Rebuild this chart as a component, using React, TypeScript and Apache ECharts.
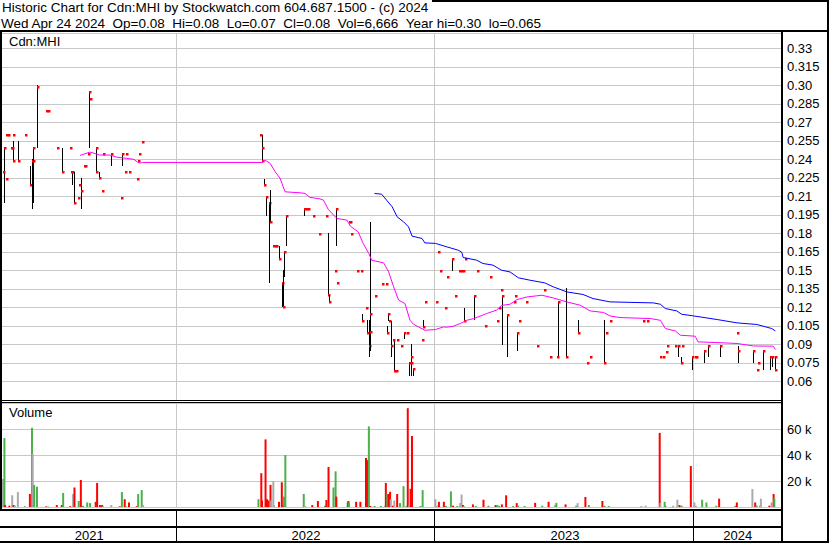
import React, { useEffect, useRef } from 'react';
import * as echarts from 'echarts';

const FONT = 'Arial, "Liberation Sans", Helvetica, sans-serif';

const headerLine1 = 'Historic Chart for Cdn:MHI by Stockwatch.com 604.687.1500 - (c) 2024';
const headerLine2Parts = ['Wed Apr 24 2024', 'Op=0.08', 'Hi=0.08', 'Lo=0.07', 'Cl=0.08', 'Vol=6,666', 'Year hi=0.30', 'lo=0.065'];
const symbolLabel = 'Cdn:MHI';
const volumeLabel = 'Volume';

const xStart = '2021-04-30';
const xEnd = '2024-05-02';
const yearStarts = ['2022-01-01', '2023-01-01', '2024-01-01'];
const yearBands = [
  ['2021-04-30', '2022-01-01', '2021'],
  ['2022-01-01', '2023-01-01', '2022'],
  ['2023-01-01', '2024-01-01', '2023'],
  ['2024-01-01', '2024-05-02', '2024'],
];

const priceMin = 0.045;
const priceMax = 0.3424;
const priceStep = 0.015;
const volMax = 80000;
const volStep = 20000;
const volLabels = [20000, 40000, 60000];

// [date, high, low, close]
const ranges2021 = [
  ['2021-05-03', 0.25, 0.205, 0.249],
  ['2021-05-16', 0.255, 0.239, 0.239],
  ['2021-05-22', 0.255, 0.239, 0.239],
  ['2021-06-08', 0.235, 0.219, 0.219],
  ['2021-06-11', 0.24, 0.2, 0.239],
  ['2021-06-12', 0.239, 0.205, 0.239],
  ['2021-06-13', 0.25, 0.239, 0.249],
  ['2021-06-18', 0.3, 0.2495, 0.299],
  ['2021-07-24', 0.2495, 0.23, 0.23],
  ['2021-08-07', 0.23, 0.2195, 0.23],
  ['2021-08-10', 0.23, 0.2045, 0.2045],
  ['2021-08-19', 0.2245, 0.2, 0.2145],
  ['2021-08-31', 0.2945, 0.2495, 0.2945],
  ['2021-09-09', 0.2495, 0.2345, 0.2495],
  ['2021-09-10', 0.245, 0.23, 0.23],
  ['2021-09-14', 0.23, 0.2245, 0.2245],
  ['2021-09-30', 0.2445, 0.2345, 0.244],
  ['2021-10-16', 0.2445, 0.2345, 0.244],
];
const ranges2022 = [
  ['2022-05-01', 0.26, 0.245, 0.249],
  ['2022-05-02', 0.245, 0.239, 0.239],
  ['2022-05-04', 0.2243, 0.2189, 0.2189],
  ['2022-05-07', 0.2094, 0.1938, 0.2094],
  ['2022-05-11', 0.2053, 0.1397, 0.205],
  ['2022-05-13', 0.2148, 0.1893, 0.1893],
  ['2022-05-26', 0.17, 0.1594, 0.1594],
  ['2022-05-29', 0.14, 0.12, 0.14],
  ['2022-05-31', 0.15, 0.12, 0.12],
  ['2022-06-02', 0.1648, 0.1445, 0.1648],
  ['2022-06-04', 0.194, 0.1694, 0.194],
  ['2022-06-30', 0.2, 0.194, 0.2],
  ['2022-08-02', 0.18, 0.13, 0.13],
  ['2022-08-04', 0.13, 0.1242, 0.1242],
  ['2022-08-14', 0.2, 0.1694, 0.2],
  ['2022-09-19', 0.1148, 0.1094, 0.1094],
  ['2022-09-26', 0.11, 0.099, 0.099],
  ['2022-09-29', 0.11, 0.08, 0.0891],
  ['2022-09-30', 0.11, 0.085, 0.1],
  ['2022-10-01', 0.1893, 0.1094, 0.1148],
  ['2022-10-24', 0.1047, 0.0991, 0.0991],
  ['2022-10-26', 0.1148, 0.1094, 0.1148],
  ['2022-10-30', 0.1094, 0.0802, 0.0891],
  ['2022-11-04', 0.0945, 0.0689, 0.0689],
  ['2022-11-17', 0.0994, 0.0945, 0.0994],
  ['2022-11-25', 0.0747, 0.0648, 0.0747],
  ['2022-11-28', 0.09, 0.0648, 0.0747],
  ['2022-11-30', 0.0698, 0.0648, 0.0698],
  ['2022-12-15', 0.11, 0.1045, 0.1045],
];
const ranges2023 = [
  ['2023-01-24', 0.1594, 0.1494, 0.1594],
  ['2023-02-10', 0.1197, 0.1094, 0.1094],
  ['2023-02-24', 0.1291, 0.11, 0.1291],
  ['2023-04-05', 0.1291, 0.0897, 0.1291],
  ['2023-04-12', 0.1142, 0.0796, 0.1142],
  ['2023-04-26', 0.0994, 0.0845, 0.0994],
  ['2023-06-22', 0.1242, 0.0796, 0.1242],
  ['2023-07-04', 0.1355, 0.0796, 0.0796],
  ['2023-07-21', 0.11, 0.0991, 0.0991],
  ['2023-08-26', 0.11, 0.0747, 0.0747],
  ['2023-12-09', 0.0891, 0.0796, 0.0891],
  ['2023-12-13', 0.0796, 0.0747, 0.0747],
  ['2023-12-29', 0.0796, 0.0694, 0.0796],
];
const ranges2024 = [
  ['2024-01-14', 0.0845, 0.0747, 0.0845],
  ['2024-01-20', 0.0891, 0.0796, 0.0891],
  ['2024-02-06', 0.0891, 0.0796, 0.0891],
  ['2024-03-03', 0.0891, 0.0747, 0.0845],
  ['2024-03-24', 0.0845, 0.0747, 0.0845],
  ['2024-04-06', 0.0845, 0.0694, 0.0845],
  ['2024-04-17', 0.0796, 0.0694, 0.0796],
  ['2024-04-20', 0.0796, 0.072, 0.0796],
  ['2024-04-24', 0.08, 0.07, 0.08],
];

// [date, close] (single-price sessions)
const closes2021 = [
  ['2021-05-01', 0.23], ['2021-05-05', 0.224], ['2021-05-06', 0.26], ['2021-05-09', 0.26],
  ['2021-05-12', 0.249], ['2021-05-14', 0.249], ['2021-05-15', 0.26], ['2021-06-02', 0.26],
  ['2021-07-01', 0.279], ['2021-07-04', 0.279], ['2021-07-16', 0.249], ['2021-08-04', 0.249],
  ['2021-08-05', 0.23], ['2021-08-15', 0.209], ['2021-08-17', 0.2195], ['2021-08-23', 0.2345],
  ['2021-08-25', 0.2345], ['2021-08-29', 0.244], ['2021-09-01', 0.289], ['2021-09-18', 0.214],
  ['2021-09-19', 0.244], ['2021-10-15', 0.209], ['2021-10-21', 0.23], ['2021-10-22', 0.244],
  ['2021-10-26', 0.23], ['2021-11-06', 0.224], ['2021-11-08', 0.239], ['2021-11-09', 0.244],
  ['2021-11-14', 0.254],
];
const closes2022 = [
  ['2022-04-28', 0.2594], ['2022-05-17', 0.1694], ['2022-05-20', 0.1694], ['2022-05-21', 0.1694],
  ['2022-07-02', 0.2], ['2022-07-05', 0.2], ['2022-07-12', 0.1938], ['2022-07-21', 0.1792],
  ['2022-07-31', 0.1938], ['2022-08-13', 0.1494], ['2022-08-15', 0.1397], ['2022-09-01', 0.1893],
  ['2022-09-02', 0.1893], ['2022-09-04', 0.1792], ['2022-09-12', 0.1494], ['2022-09-18', 0.1494],
  ['2022-09-25', 0.1194], ['2022-10-08', 0.1291], ['2022-10-18', 0.1394], ['2022-10-23', 0.1394],
  ['2022-10-28', 0.1094], ['2022-11-02', 0.094], ['2022-11-06', 0.0689], ['2022-11-08', 0.094],
  ['2022-11-14', 0.0891], ['2022-11-22', 0.0994], ['2022-11-27', 0.0796], ['2022-12-13', 0.094],
  ['2022-12-17', 0.1242],
];
const closes2023 = [
  ['2023-01-02', 0.1242], ['2023-01-04', 0.1648], ['2023-01-08', 0.1494], ['2023-01-15', 0.1194],
  ['2023-01-17', 0.1445], ['2023-01-29', 0.1291], ['2023-02-03', 0.1494], ['2023-02-06', 0.1494],
  ['2023-02-09', 0.1494], ['2023-02-12', 0.1589], ['2023-02-28', 0.1494], ['2023-03-12', 0.1047],
  ['2023-03-19', 0.1445], ['2023-03-28', 0.1094], ['2023-03-31', 0.1194], ['2023-04-04', 0.1345],
  ['2023-04-22', 0.1242], ['2023-04-23', 0.1291], ['2023-04-29', 0.1094], ['2023-05-09', 0.1242],
  ['2023-05-24', 0.0891], ['2023-06-03', 0.1345], ['2023-06-12', 0.0796], ['2023-06-21', 0.0796],
  ['2023-08-02', 0.0747], ['2023-08-07', 0.0796], ['2023-08-29', 0.0991], ['2023-09-04', 0.1094],
  ['2023-10-20', 0.1094], ['2023-10-26', 0.1094], ['2023-11-14', 0.0796], ['2023-11-18', 0.0796],
  ['2023-11-22', 0.0843], ['2023-11-23', 0.0891], ['2023-12-05', 0.0891], ['2023-12-15', 0.0891],
];
const closes2024 = [
  ['2024-01-02', 0.0796], ['2024-01-03', 0.0796], ['2024-03-01', 0.0991], ['2024-03-29', 0.0694],
  ['2024-03-31', 0.0747], ['2024-04-23', 0.0694],
];

// moving averages [date, value]
const maShort = [
  ['2021-08-18', 0.2432], ['2021-09-01', 0.2459], ['2021-09-15', 0.2435], ['2021-09-29', 0.2435],
  ['2021-10-09', 0.2418], ['2021-10-23', 0.2408], ['2021-11-02', 0.24], ['2021-11-07', 0.2378],
  ['2021-11-11', 0.237], ['2021-11-14', 0.2375], ['2022-05-02', 0.2375], ['2022-05-04', 0.2394],
  ['2022-05-08', 0.2386], ['2022-05-13', 0.2367], ['2022-05-20', 0.23], ['2022-05-27', 0.2246],
  ['2022-05-31', 0.2183], ['2022-06-03', 0.2137], ['2022-06-24', 0.2129], ['2022-07-01', 0.2124],
  ['2022-07-08', 0.2092], ['2022-07-22', 0.208], ['2022-07-27', 0.207], ['2022-08-03', 0.1994],
  ['2022-08-15', 0.1921], ['2022-08-29', 0.1908], ['2022-09-03', 0.1859], ['2022-09-14', 0.1813],
  ['2022-09-21', 0.1719], ['2022-09-29', 0.1638], ['2022-10-03', 0.1583], ['2022-10-20', 0.1561],
  ['2022-10-27', 0.1488], ['2022-11-03', 0.1367], ['2022-11-10', 0.1259], ['2022-11-19', 0.1232],
  ['2022-11-26', 0.1097], ['2022-12-01', 0.1064], ['2022-12-17', 0.1015], ['2023-01-01', 0.1021],
  ['2023-01-12', 0.1042], ['2023-01-17', 0.104], ['2023-01-26', 0.1048], ['2023-02-05', 0.107],
  ['2023-02-14', 0.1096], ['2023-02-24', 0.111], ['2023-03-14', 0.115], ['2023-03-28', 0.1178],
  ['2023-04-04', 0.1216], ['2023-04-16', 0.1226], ['2023-04-26', 0.1264], ['2023-05-10', 0.1285],
  ['2023-05-31', 0.1299], ['2023-06-16', 0.1277], ['2023-07-05', 0.1245], ['2023-07-24', 0.1218],
  ['2023-08-07', 0.1172], ['2023-08-26', 0.1159], ['2023-09-04', 0.1131], ['2023-09-18', 0.1118],
  ['2023-10-31', 0.111], ['2023-11-14', 0.1096], ['2023-11-21', 0.1029], ['2023-12-05', 0.101],
  ['2023-12-12', 0.0975], ['2024-01-02', 0.0967], ['2024-01-06', 0.0921], ['2024-01-30', 0.0916],
  ['2024-03-01', 0.0908], ['2024-03-24', 0.0888], ['2024-04-21', 0.0886], ['2024-04-24', 0.0859],
];
const maLong = [
  ['2022-10-07', 0.2124], ['2022-10-17', 0.2118], ['2022-10-24', 0.207], ['2022-11-01', 0.2015],
  ['2022-11-08', 0.1934], ['2022-11-17', 0.1894], ['2022-11-24', 0.1853], ['2022-11-29', 0.1778],
  ['2022-12-13', 0.1759], ['2022-12-17', 0.1723], ['2023-01-01', 0.1719], ['2023-01-17', 0.1691],
  ['2023-02-02', 0.1664], ['2023-02-07', 0.1648], ['2023-02-09', 0.1605], ['2023-02-28', 0.1583],
  ['2023-03-09', 0.1556], ['2023-03-23', 0.1543], ['2023-04-04', 0.1502], ['2023-04-16', 0.1488],
  ['2023-04-28', 0.144], ['2023-05-14', 0.1421], ['2023-06-04', 0.1399], ['2023-06-16', 0.1367],
  ['2023-07-05', 0.1326], ['2023-07-28', 0.1305], ['2023-08-11', 0.1272], ['2023-09-04', 0.1245],
  ['2023-11-04', 0.1237], ['2023-11-14', 0.1226], ['2023-11-21', 0.1191], ['2023-12-07', 0.1172],
  ['2023-12-14', 0.1145], ['2023-12-31', 0.1131], ['2024-02-02', 0.1102], ['2024-03-01', 0.1075],
  ['2024-03-29', 0.1062], ['2024-04-19', 0.1029], ['2024-04-24', 0.101],
];

// volume [date, shares, direction u/d/n]
const vol2021 = [
  ['2021-04-30', 21500, 'n'], ['2021-05-02', 53000, 'u'], ['2021-05-03', 1500, 'd'], ['2021-05-09', 1000, 'd'],
  ['2021-05-13', 9000, 'n'], ['2021-05-15', 1500, 'd'], ['2021-05-17', 1000, 'n'], ['2021-05-21', 11500, 'n'],
  ['2021-05-31', 500, 'u'], ['2021-06-07', 10000, 'd'], ['2021-06-10', 61000, 'u'], ['2021-06-11', 41000, 'n'],
  ['2021-06-13', 17000, 'u'], ['2021-06-17', 15600, 'u'], ['2021-06-30', 500, 'd'], ['2021-07-03', 500, 'n'],
  ['2021-07-15', 1500, 'd'], ['2021-07-22', 1500, 'd'], ['2021-07-24', 10800, 'u'], ['2021-08-03', 600, 'd'],
  ['2021-08-07', 10000, 'n'], ['2021-08-09', 15000, 'd'], ['2021-08-15', 4600, 'u'], ['2021-08-18', 20800, 'd'],
  ['2021-08-21', 1000, 'u'], ['2021-08-27', 3500, 'u'], ['2021-08-31', 3000, 'u'], ['2021-09-08', 4000, 'd'],
  ['2021-09-10', 18500, 'd'], ['2021-09-14', 1500, 'd'], ['2021-09-17', 1500, 'd'], ['2021-09-18', 500, 'u'],
  ['2021-09-30', 1500, 'n'], ['2021-10-12', 500, 'd'], ['2021-10-15', 11500, 'u'], ['2021-10-19', 6000, 'd'],
  ['2021-10-21', 500, 'u'], ['2021-10-25', 3500, 'd'], ['2021-11-05', 600, 'd'], ['2021-11-07', 10000, 'u'],
  ['2021-11-12', 13000, 'u'], ['2021-11-14', 1500, 'n'],
];
const vol2022 = [
  ['2022-04-26', 6000, 'u'], ['2022-04-30', 26000, 'd'], ['2022-05-01', 5000, 'd'], ['2022-05-06', 52000, 'd'],
  ['2022-05-08', 6000, 'd'], ['2022-05-10', 5000, 'd'], ['2022-05-13', 17000, 'd'], ['2022-05-14', 5000, 'n'],
  ['2022-05-17', 19700, 'n'], ['2022-05-18', 1500, 'n'], ['2022-05-25', 4000, 'd'], ['2022-05-29', 19000, 'd'],
  ['2022-05-31', 1500, 'd'], ['2022-06-01', 8000, 'u'], ['2022-06-03', 40000, 'u'], ['2022-06-29', 10000, 'u'],
  ['2022-07-01', 800, 'n'], ['2022-07-11', 1500, 'd'], ['2022-07-19', 4600, 'd'], ['2022-07-29', 1000, 'u'],
  ['2022-07-31', 5400, 'd'], ['2022-08-03', 30800, 'd'], ['2022-08-10', 15000, 'u'], ['2022-08-13', 27400, 'u'],
  ['2022-08-14', 8000, 'd'], ['2022-08-30', 3500, 'u'], ['2022-08-31', 4600, 'd'], ['2022-09-01', 3500, 'u'],
  ['2022-09-11', 4000, 'd'], ['2022-09-17', 4000, 'd'], ['2022-09-25', 37700, 'd'], ['2022-09-27', 36000, 'd'],
  ['2022-09-29', 62000, 'u'], ['2022-10-01', 800, 'd'], ['2022-10-07', 800, 'u'], ['2022-10-16', 800, 'u'],
  ['2022-10-22', 1000, 'n'], ['2022-10-23', 18500, 'd'], ['2022-10-25', 10000, 'u'], ['2022-10-27', 10000, 'd'],
  ['2022-10-29', 11700, 'd'], ['2022-10-30', 6000, 'n'], ['2022-11-02', 1000, 'd'], ['2022-11-04', 5000, 'n'],
  ['2022-11-08', 10000, 'd'], ['2022-11-12', 3000, 'u'], ['2022-11-17', 16000, 'u'], ['2022-11-21', 1000, 'n'],
  ['2022-11-23', 76000, 'd'], ['2022-11-25', 1000, 'n'], ['2022-11-27', 14000, 'd'], ['2022-11-29', 54600, 'd'],
  ['2022-12-11', 800, 'u'], ['2022-12-14', 13000, 'u'],
];
const vol2023 = [
  ['2023-01-01', 6000, 'n'], ['2023-01-03', 1000, 'n'], ['2023-01-06', 4000, 'd'], ['2023-01-13', 4000, 'd'],
  ['2023-01-16', 800, 'u'], ['2023-01-23', 12000, 'u'], ['2023-01-26', 1000, 'd'], ['2023-02-01', 800, 'u'],
  ['2023-02-05', 3000, 'n'], ['2023-02-07', 9600, 'n'], ['2023-02-09', 1500, 'd'], ['2023-02-10', 800, 'u'],
  ['2023-02-23', 2000, 'd'], ['2023-02-27', 800, 'u'], ['2023-03-10', 5600, 'd'], ['2023-03-17', 1000, 'u'],
  ['2023-03-27', 1500, 'd'], ['2023-03-29', 1500, 'u'], ['2023-04-01', 1000, 'u'], ['2023-04-05', 2000, 'd'],
  ['2023-04-11', 9000, 'd'], ['2023-04-21', 800, 'u'], ['2023-04-26', 3000, 'd'], ['2023-04-28', 1000, 'u'],
  ['2023-05-07', 800, 'u'], ['2023-05-22', 3200, 'd'], ['2023-06-01', 1000, 'u'], ['2023-06-10', 4000, 'd'],
  ['2023-06-19', 1500, 'n'], ['2023-06-21', 3200, 'u'], ['2023-07-04', 2000, 'd'], ['2023-07-19', 1000, 'u'],
  ['2023-07-21', 3000, 'n'], ['2023-08-01', 7700, 'd'], ['2023-08-06', 1500, 'u'], ['2023-08-25', 4600, 'd'],
  ['2023-08-28', 1000, 'u'], ['2023-09-03', 800, 'u'], ['2023-10-19', 800, 'n'], ['2023-10-25', 1000, 'n'],
  ['2023-11-14', 57000, 'd'], ['2023-11-15', 3000, 'n'], ['2023-11-21', 4000, 'u'], ['2023-11-22', 1000, 'u'],
  ['2023-12-03', 1000, 'n'], ['2023-12-09', 5600, 'n'], ['2023-12-12', 1500, 'd'], ['2023-12-15', 1000, 'u'],
  ['2023-12-28', 31500, 'd'],
];
const vol2024 = [
  ['2024-01-02', 3500, 'n'], ['2024-01-04', 1000, 'n'], ['2024-01-13', 5600, 'u'], ['2024-01-19', 3500, 'u'],
  ['2024-02-02', 1000, 'u'], ['2024-02-06', 6400, 'd'], ['2024-02-29', 1000, 'u'], ['2024-03-02', 3500, 'd'],
  ['2024-03-24', 13800, 'n'], ['2024-03-28', 3500, 'd'], ['2024-03-30', 1000, 'u'], ['2024-04-04', 1000, 'u'],
  ['2024-04-05', 6400, 'n'], ['2024-04-17', 1000, 'd'], ['2024-04-20', 3500, 'n'], ['2024-04-23', 10000, 'd'],
  ['2024-04-24', 6666, 'u'],
];

const VOL_COLORS: Record<string, string> = { u: '#4cb04c', d: '#ff0000', n: '#aaaaaa' };
const GRID_GRAY = '#c8c8c8';

const ts = (s: string) => new Date(s + 'T00:00:00').getTime();

function buildOption() {
  const ranges = [...ranges2021, ...ranges2022, ...ranges2023, ...ranges2024];
  const closes = [...closes2021, ...closes2022, ...closes2023, ...closes2024];
  const priceData = [
    ...ranges.map((r: any) => [ts(r[0]), r[1], r[2], r[3]]),
    ...closes.map((c: any) => [ts(c[0]), c[1], c[1], c[1]]),
  ];
  const vols = [...vol2021, ...vol2022, ...vol2023, ...vol2024];
  const volData = vols.map((v: any) => ({
    value: [ts(v[0]), v[1]],
    itemStyle: { color: VOL_COLORS[v[2]] },
  }));

  const xMin = ts(xStart);
  const xMax = ts(xEnd);
  const hiddenX = (gridIndex: number) => ({
    type: 'time', gridIndex, min: xMin, max: xMax,
    axisLine: { show: false }, axisTick: { show: false }, axisLabel: { show: false }, splitLine: { show: false },
  });

  const yearLineSeries = (idx: number) => ({
    type: 'custom',
    xAxisIndex: idx, yAxisIndex: idx,
    z: 1, silent: true,
    data: yearStarts.map((d) => [ts(d), 0]),
    renderItem: (params: any, api: any) => {
      const p = api.coord([api.value(0), 0]);
      const cs = params.coordSys;
      const x = Math.round(p[0]) - 0.5;
      return {
        type: 'line',
        shape: { x1: x, y1: cs.y, x2: x, y2: cs.y + cs.height },
        style: { stroke: GRID_GRAY, lineWidth: 1 },
      };
    },
  });

  const fmtPrice = (v: number) => {
    if (v < 0.055 || v > 0.335) return '';
    let s = v.toFixed(3);
    if (s.endsWith('0')) s = s.slice(0, -1);
    return s;
  };

  const NB = '\u00a0\u00a0';
  const frame = (x: number, y: number, w: number, h: number) => ({
    type: 'rect', z: 100, silent: true, shape: { x, y, width: w, height: h }, style: { fill: '#000' },
  });
  const headFont = `13.5px ${FONT}`;

  return {
    animation: false,
    backgroundColor: '#ffffff',
    textStyle: { fontFamily: FONT },
    grid: [
      { left: 2, right: 49, top: 33, height: 367 },
      { left: 2, right: 49, top: 403, height: 104 },
      { left: 2, right: 49, top: 511, height: 30 },
    ],
    xAxis: [hiddenX(0), hiddenX(1), hiddenX(2)],
    yAxis: [
      {
        type: 'value', gridIndex: 0, position: 'right', min: priceMin, max: priceMax, interval: priceStep,
        axisLine: { show: false }, axisTick: { show: false },
        splitLine: { show: true, lineStyle: { color: GRID_GRAY, width: 1 } },
        axisLabel: { margin: 6, color: '#000', fontSize: 13, fontFamily: FONT, formatter: fmtPrice },
      },
      {
        type: 'value', gridIndex: 1, position: 'right', min: 0, max: volMax, interval: volStep,
        axisLine: { show: false }, axisTick: { show: false },
        splitLine: { show: true, lineStyle: { color: GRID_GRAY, width: 1 } },
        axisLabel: {
          margin: 6, color: '#000', fontSize: 13, fontFamily: FONT,
          formatter: (v: number) => (volLabels.includes(v) ? `${v / 1000} k` : ''),
        },
      },
      { type: 'value', gridIndex: 2, min: 0, max: 1, show: false },
    ],
    series: [
      yearLineSeries(0),
      yearLineSeries(1),
      {
        type: 'custom', name: 'price', xAxisIndex: 0, yAxisIndex: 0, z: 3, silent: true,
        data: priceData,
        renderItem: (params: any, api: any) => {
          const d = api.value(0);
          const hi = api.value(1);
          const lo = api.value(2);
          const cl = api.value(3);
          const pH = api.coord([d, hi]);
          const pL = api.coord([d, lo]);
          const pC = api.coord([d, cl]);
          const x = Math.round(pH[0]) + 0.5;
          const children: any[] = [];
          if (hi !== lo) {
            children.push({
              type: 'line',
              shape: { x1: x, y1: Math.round(pH[1]), x2: x, y2: Math.round(pL[1]) },
              style: { stroke: '#000', lineWidth: 1 },
            });
          }
          children.push({
            type: 'rect',
            shape: { x: x - 0.5, y: Math.round(pC[1]) - 1, width: 2.5, height: 2.5 },
            style: { fill: '#ff0000' },
          });
          return { type: 'group', children };
        },
      },
      {
        type: 'line', name: 'MA short', xAxisIndex: 0, yAxisIndex: 0, z: 4, silent: true,
        showSymbol: false, symbol: 'none',
        lineStyle: { color: '#ff00ff', width: 1 },
        data: maShort.map((p: any) => [ts(p[0]), p[1]]),
      },
      {
        type: 'line', name: 'MA long', xAxisIndex: 0, yAxisIndex: 0, z: 4, silent: true,
        showSymbol: false, symbol: 'none',
        lineStyle: { color: '#0000ff', width: 1 },
        data: maLong.map((p: any) => [ts(p[0]), p[1]]),
      },
      {
        type: 'bar', name: 'Volume', xAxisIndex: 1, yAxisIndex: 1, z: 3, silent: true,
        barWidth: 2, barGap: '-100%',
        data: volData,
      },
      {
        type: 'custom', name: 'years', xAxisIndex: 2, yAxisIndex: 2, z: 3, silent: true,
        data: yearBands.map((b) => [ts(b[0]), ts(b[1])]),
        renderItem: (params: any, api: any) => {
          const cs = params.coordSys;
          const p1 = api.coord([api.value(0), 0]);
          const p2 = api.coord([api.value(1), 0]);
          const children: any[] = [
            {
              type: 'text',
              style: {
                text: yearBands[params.dataIndex][2],
                x: (p1[0] + p2[0]) / 2, y: cs.y + cs.height - 6,
                align: 'center', verticalAlign: 'middle',
                font: `13px ${FONT}`, fill: '#000',
              },
            },
          ];
          if (params.dataIndex > 0) {
            const x = Math.round(p1[0]) - 0.5;
            children.push({
              type: 'line',
              shape: { x1: x, y1: cs.y - 2, x2: x, y2: cs.y + cs.height },
              style: { stroke: '#000', lineWidth: 1 },
            });
          }
          return { type: 'group', children };
        },
      },
    ],
    graphic: [
      { type: 'text', z: 100, silent: true, style: { text: headerLine1, x: 2, y: 0, font: headFont, lineHeight: 15, fill: '#000' } },
      { type: 'text', z: 100, silent: true, style: { text: headerLine2Parts.join(NB), x: 1, y: 15.5, font: headFont, lineHeight: 15, fill: '#000' } },
      { type: 'text', z: 100, silent: true, style: { text: symbolLabel, x: 9, y: 35, font: `13px ${FONT}`, fill: '#000' } },
      { type: 'text', z: 100, silent: true, style: { text: volumeLabel, x: 9, y: 406, font: `13px ${FONT}`, fill: '#000' } },
      frame(432, 0, 397, 2),
      frame(0, 30, 829, 2),
      frame(0, 30, 2, 481),
      frame(781, 30, 2, 513),
      frame(827, 0, 2, 543),
      frame(0, 400, 781, 1),
      frame(0, 402, 781, 1),
      frame(0, 509, 781, 2),
      frame(0, 526, 781, 2),
      frame(0, 541, 829, 2),
    ],
  };
}

export default function App() {
  const ref = useRef<HTMLDivElement>(null);
  useEffect(() => {
    if (!ref.current) return;
    const chart = echarts.init(ref.current, undefined, { renderer: 'svg' });
    chart.setOption(buildOption() as any);
    return () => chart.dispose();
  }, []);
  return (
    <div
      ref={ref}
      style={{ position: 'fixed', left: 0, top: 0, width: 830, height: 543, background: '#fff' }}
    />
  );
}
